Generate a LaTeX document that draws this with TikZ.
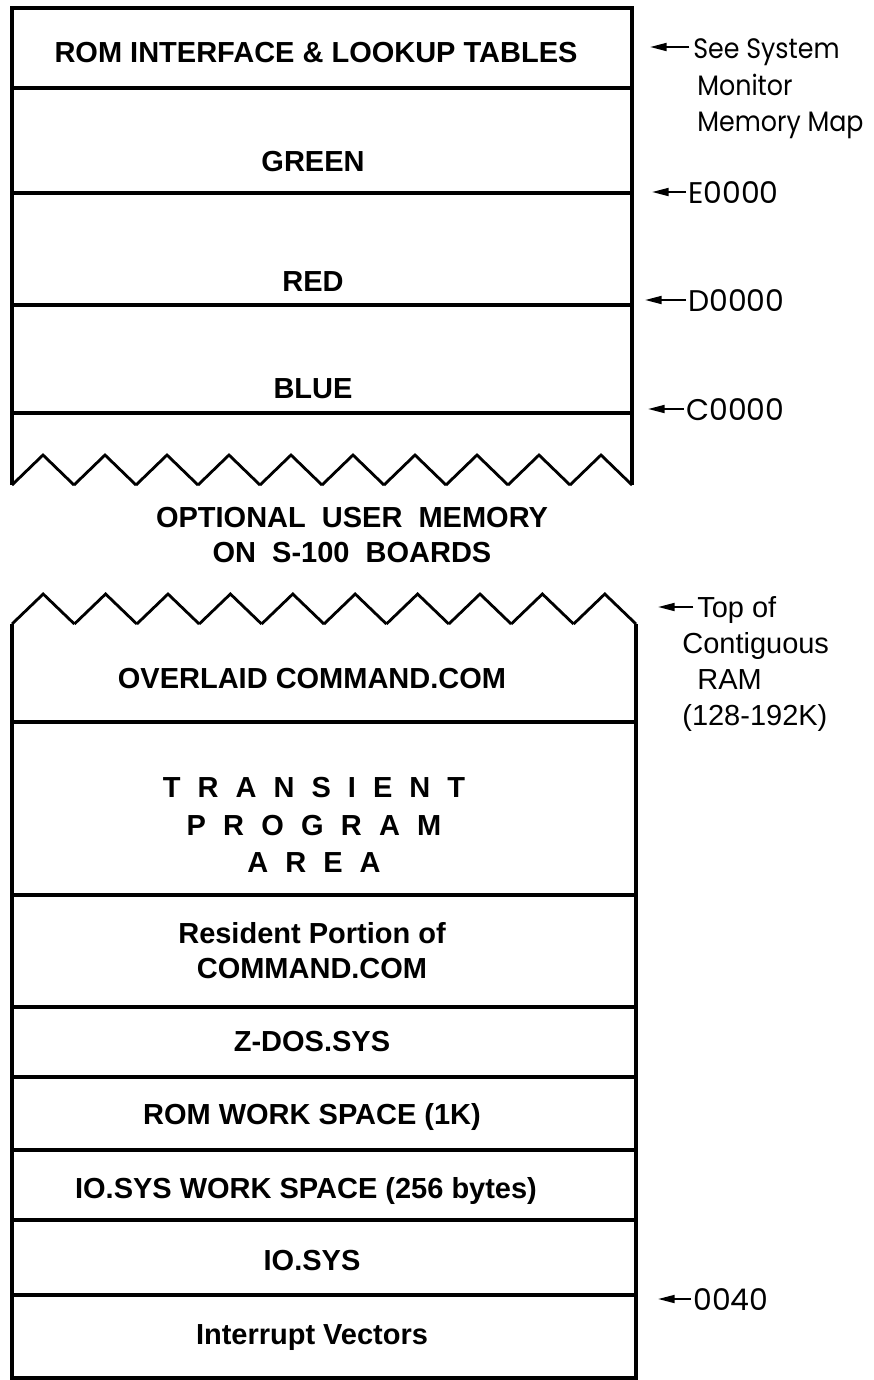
\documentclass[tikz,border=0pt]{standalone}
\usepackage{fontspec}
\setmainfont{Liberation Sans}
\newfontfamily\roundfont{Poppins}
\newfontfamily\seefont[FakeStretch=0.9]{Poppins}
\usetikzlibrary{arrows.meta}

\begin{document}
\begin{tikzpicture}[x=0.02cm, y=-0.02cm,
    wall/.style={line width=2.2pt},
    zig/.style={line width=1.6pt, line join=miter},
    area/.style={font=\fontsize{16.5}{20}\selectfont\bfseries, anchor=base, inner sep=0pt},
    addr/.style={font=\fontsize{16.5}{20}\selectfont, anchor=base west, inner sep=0pt},
    raddr/.style={font=\roundfont\fontsize{17}{20}\selectfont, anchor=base west, inner sep=0pt},
    seetxt/.style={font=\seefont\fontsize{16}{20}\selectfont, anchor=base west, inner sep=0pt},
    pointer/.style={line width=1.2pt, -{Triangle[length=9.5pt,width=4.5pt]}}]
    \useasboundingbox (0,0) rectangle (874,1380);

    % upper block: ROM and the three colour planes
    \draw[wall] (12,485) -- (12,8) -- (632,8) -- (632,485);
    \foreach \y in {88,193,305,413} \draw[wall] (12,\y) -- (632,\y);
    \foreach \k in {0,...,9} \draw[zig] ({12+62*\k},485) -- ({43+62*\k},455) -- ({74+62*\k},485);

    \node[area] (romtab) at (316,62) {ROM INTERFACE \& LOOKUP TABLES};
    \node[area] (green) at (313,171) {GREEN};
    \node[area] (red) at (313,291) {RED};
    \node[area] (blue) at (313,398) {BLUE};

    % gap between the blocks
    \node[area] (opt1) at (352,527) {OPTIONAL\ \ USER\ \ MEMORY};
    \node[area] (opt2) at (352,562) {ON\ \ S-100\ \ BOARDS};

    % lower block: contiguous RAM
    \draw[wall] (12,624) -- (12,1378) -- (636,1378) -- (636,624);
    \foreach \k in {0,...,9} \draw[zig] ({12+62.4*\k},624) -- ({43.2+62.4*\k},594) -- ({74.4+62.4*\k},624);
    \foreach \y in {722,895,1007,1077,1150,1220,1295} \draw[wall] (12,\y) -- (636,\y);

    \node[area] (overlaid) at (312,688) {OVERLAID COMMAND.COM};
    \node[area] (tpa1) at (314,797) {\spaceskip=9.7pt T R A N S I E N T};
    \node[area] (tpa2) at (314,835) {\spaceskip=9.8pt P R O G R A M};
    \node[area] (tpa3) at (314,872) {\spaceskip=9.7pt A R E A};
    \node[area] (res1) at (312,943) {Resident Portion of};
    \node[area] (res2) at (312,978) {COMMAND.COM};
    \node[area] (zdos) at (312,1051) {Z-DOS.SYS};
    \node[area] (romws) at (312,1124) {ROM WORK SPACE (1K)};
    \node[area] (iows) at (306,1198) {IO.SYS WORK SPACE (256 bytes)};
    \node[area] (iosys) at (312,1270) {IO.SYS};
    \node[area] (vectors) at (312,1344) {Interrupt Vectors};

    % addresses on the right
    \node[seetxt] (see1) at (693,58) {See System};
    \node[seetxt] (see2) at (697,95) {Monitor};
    \node[seetxt] (see3) at (697,131) {Memory Map};
    \node[raddr] (e0000) at (688,203) {E0000};
    \node[raddr] (d0000) at (688,311) {D0000};
    \node[raddr] (c0000) at (686,420) {C0000};
    \node[addr] (top1) at (697,617) {Top of};
    \node[addr] (top2) at (682,653) {Contiguous};
    \node[addr] (top3) at (697,689) {RAM};
    \node[addr] (top4) at (682,725) {(128-192K)};
    \node[raddr] (a0040) at (693,1310) {0040};

    \coordinate (seetip) at (650,47);
    \coordinate (etip) at (652,192);
    \coordinate (dtip) at (645,300);
    \coordinate (ctip) at (648,409);
    \coordinate (toptip) at (658,607);
    \coordinate (vtip) at (658,1299);

    \draw[pointer] ([xshift=-2pt]see1.base west |- seetip) -- (seetip);
    \draw[pointer] ([xshift=-1pt]e0000.base west |- etip) -- (etip);
    \draw[pointer] ([xshift=-1pt]d0000.base west |- dtip) -- (dtip);
    \draw[pointer] ([xshift=-1pt]c0000.base west |- ctip) -- (ctip);
    \draw[pointer] ([xshift=-2pt]top1.base west |- toptip) -- (toptip);
    \draw[pointer] ([xshift=-1pt]a0040.base west |- vtip) -- (vtip);

\end{tikzpicture}
\end{document}
